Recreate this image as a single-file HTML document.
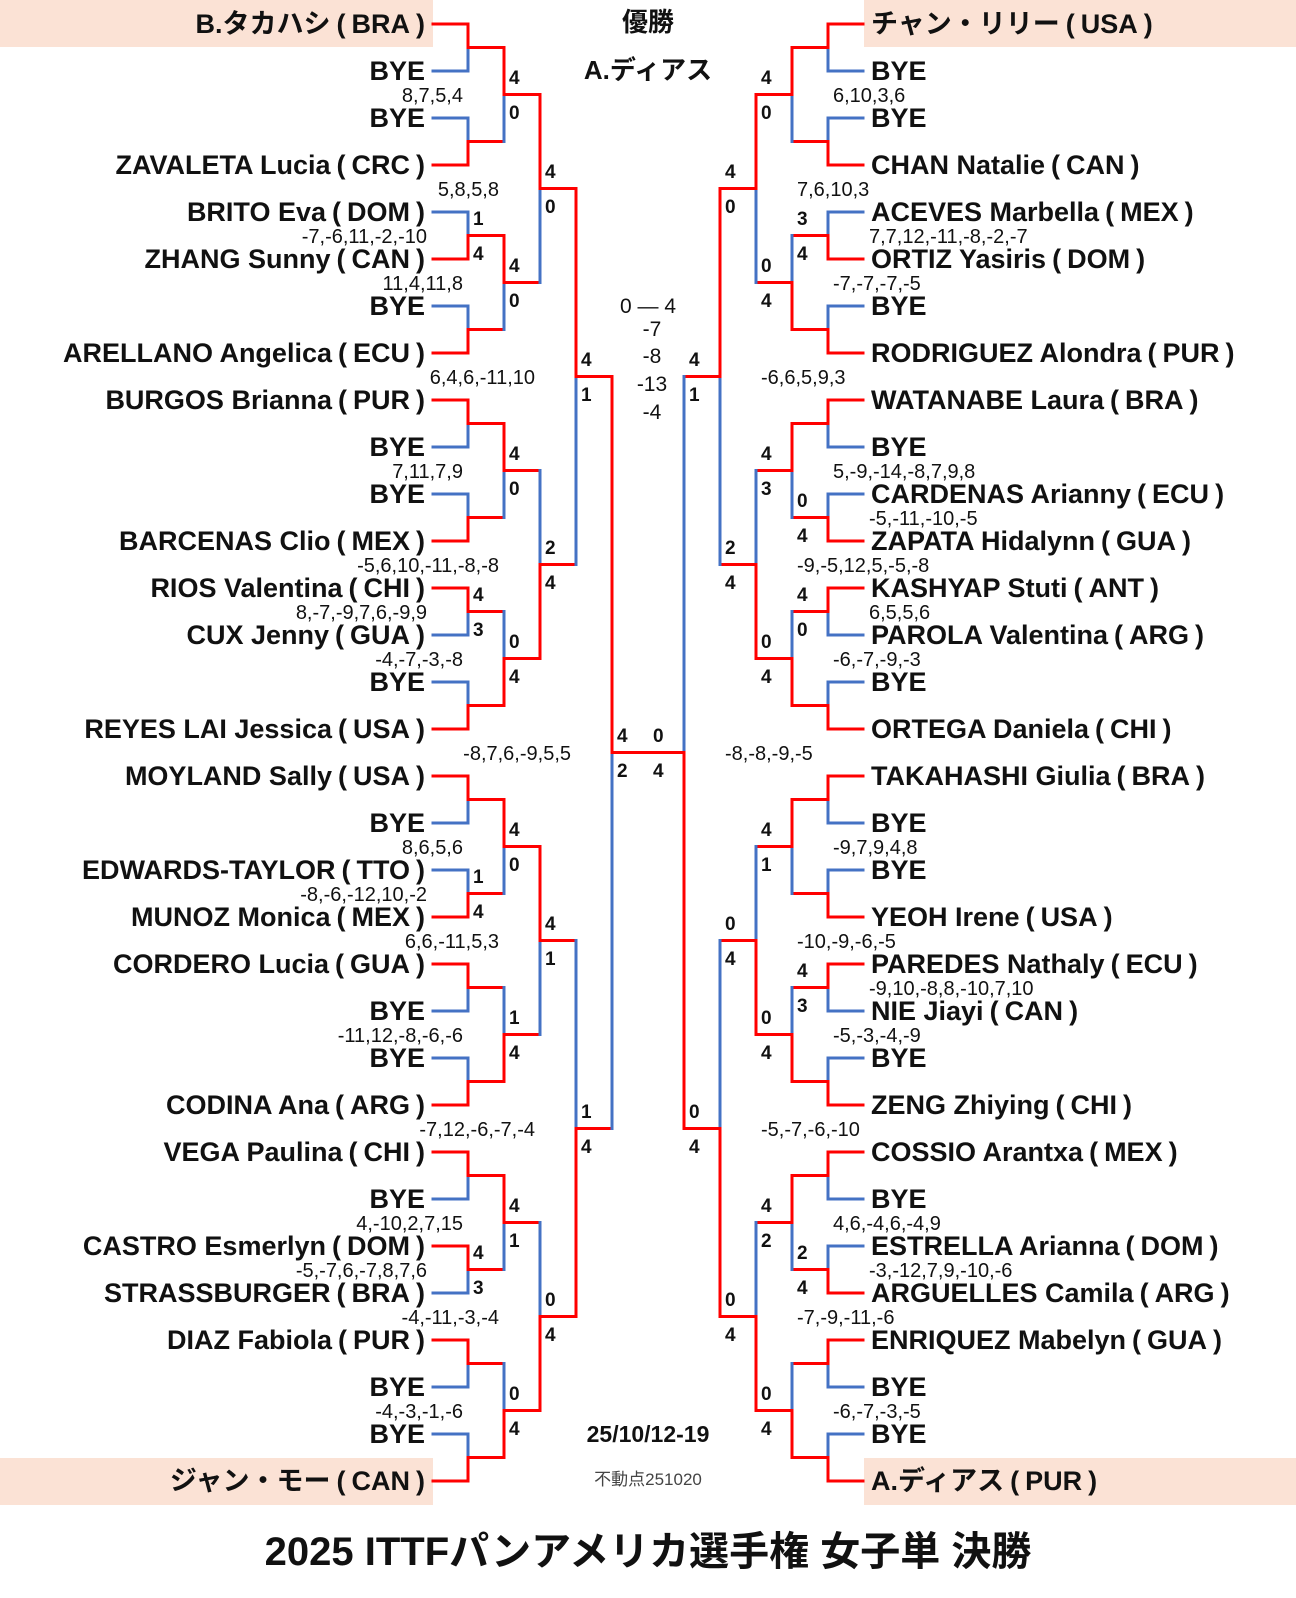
<!DOCTYPE html>
<html><head><meta charset="utf-8">
<style>
html,body{margin:0;padding:0;background:#fff}
#w{position:relative;width:1296px;height:1598px;overflow:hidden;background:#fff;font-family:"Liberation Sans","Noto Sans CJK JP",sans-serif;color:#111}
.bx{position:absolute;background:#fbe2d5}
.nl,.nr{position:absolute;font-weight:bold;font-size:27px;line-height:30px;white-space:nowrap}
.nl{right:871px;text-align:right}
.nr{left:871px}
i{font-style:normal}
i.a{margin:0 6px}
i.b{margin-left:6px}
.n{position:absolute;font-weight:bold;font-size:19px;line-height:20px}
.s{position:absolute;font-size:20px;line-height:22px;white-space:nowrap}
.c{position:absolute;left:548px;width:200px;text-align:center;white-space:nowrap}
svg{position:absolute;left:0;top:0}
</style></head><body><div id="w">
<div class="bx" style="left:0;top:0;width:433px;height:47px"></div>
<div class="bx" style="left:0;top:1458px;width:433px;height:47px"></div>
<div class="bx" style="left:864px;top:0;width:432px;height:47px"></div>
<div class="bx" style="left:864px;top:1458px;width:432px;height:47px"></div>
<svg id="sv" width="1296" height="1598"></svg>

<div class="nl" style="top:9px">B.タカハシ<i class="a">(</i>BRA<i class="b">)</i></div>
<div class="nl" style="top:56px">BYE</div>
<div class="nl" style="top:103px">BYE</div>
<div class="nl" style="top:150px">ZAVALETA Lucia<i class="a">(</i>CRC<i class="b">)</i></div>
<div class="nl" style="top:197px">BRITO Eva<i class="a">(</i>DOM<i class="b">)</i></div>
<div class="nl" style="top:244px">ZHANG Sunny<i class="a">(</i>CAN<i class="b">)</i></div>
<div class="nl" style="top:291px">BYE</div>
<div class="nl" style="top:338px">ARELLANO Angelica<i class="a">(</i>ECU<i class="b">)</i></div>
<div class="nl" style="top:385px">BURGOS Brianna<i class="a">(</i>PUR<i class="b">)</i></div>
<div class="nl" style="top:432px">BYE</div>
<div class="nl" style="top:479px">BYE</div>
<div class="nl" style="top:526px">BARCENAS Clio<i class="a">(</i>MEX<i class="b">)</i></div>
<div class="nl" style="top:573px">RIOS Valentina<i class="a">(</i>CHI<i class="b">)</i></div>
<div class="nl" style="top:620px">CUX Jenny<i class="a">(</i>GUA<i class="b">)</i></div>
<div class="nl" style="top:667px">BYE</div>
<div class="nl" style="top:714px">REYES LAI Jessica<i class="a">(</i>USA<i class="b">)</i></div>
<div class="nl" style="top:761px">MOYLAND Sally<i class="a">(</i>USA<i class="b">)</i></div>
<div class="nl" style="top:808px">BYE</div>
<div class="nl" style="top:855px">EDWARDS-TAYLOR<i class="a">(</i>TTO<i class="b">)</i></div>
<div class="nl" style="top:902px">MUNOZ Monica<i class="a">(</i>MEX<i class="b">)</i></div>
<div class="nl" style="top:949px">CORDERO Lucia<i class="a">(</i>GUA<i class="b">)</i></div>
<div class="nl" style="top:996px">BYE</div>
<div class="nl" style="top:1043px">BYE</div>
<div class="nl" style="top:1090px">CODINA Ana<i class="a">(</i>ARG<i class="b">)</i></div>
<div class="nl" style="top:1137px">VEGA Paulina<i class="a">(</i>CHI<i class="b">)</i></div>
<div class="nl" style="top:1184px">BYE</div>
<div class="nl" style="top:1231px">CASTRO Esmerlyn<i class="a">(</i>DOM<i class="b">)</i></div>
<div class="nl" style="top:1278px">STRASSBURGER<i class="a">(</i>BRA<i class="b">)</i></div>
<div class="nl" style="top:1325px">DIAZ Fabiola<i class="a">(</i>PUR<i class="b">)</i></div>
<div class="nl" style="top:1372px">BYE</div>
<div class="nl" style="top:1419px">BYE</div>
<div class="nl" style="top:1466px">ジャン・モー<i class="a">(</i>CAN<i class="b">)</i></div>

<div class="nr" style="top:9px">チャン・リリー<i class="a">(</i>USA<i class="b">)</i></div>
<div class="nr" style="top:56px">BYE</div>
<div class="nr" style="top:103px">BYE</div>
<div class="nr" style="top:150px">CHAN Natalie<i class="a">(</i>CAN<i class="b">)</i></div>
<div class="nr" style="top:197px">ACEVES Marbella<i class="a">(</i>MEX<i class="b">)</i></div>
<div class="nr" style="top:244px">ORTIZ Yasiris<i class="a">(</i>DOM<i class="b">)</i></div>
<div class="nr" style="top:291px">BYE</div>
<div class="nr" style="top:338px">RODRIGUEZ Alondra<i class="a">(</i>PUR<i class="b">)</i></div>
<div class="nr" style="top:385px">WATANABE Laura<i class="a">(</i>BRA<i class="b">)</i></div>
<div class="nr" style="top:432px">BYE</div>
<div class="nr" style="top:479px">CARDENAS Arianny<i class="a">(</i>ECU<i class="b">)</i></div>
<div class="nr" style="top:526px">ZAPATA Hidalynn<i class="a">(</i>GUA<i class="b">)</i></div>
<div class="nr" style="top:573px">KASHYAP Stuti<i class="a">(</i>ANT<i class="b">)</i></div>
<div class="nr" style="top:620px">PAROLA Valentina<i class="a">(</i>ARG<i class="b">)</i></div>
<div class="nr" style="top:667px">BYE</div>
<div class="nr" style="top:714px">ORTEGA Daniela<i class="a">(</i>CHI<i class="b">)</i></div>
<div class="nr" style="top:761px">TAKAHASHI Giulia<i class="a">(</i>BRA<i class="b">)</i></div>
<div class="nr" style="top:808px">BYE</div>
<div class="nr" style="top:855px">BYE</div>
<div class="nr" style="top:902px">YEOH Irene<i class="a">(</i>USA<i class="b">)</i></div>
<div class="nr" style="top:949px">PAREDES Nathaly<i class="a">(</i>ECU<i class="b">)</i></div>
<div class="nr" style="top:996px">NIE Jiayi<i class="a">(</i>CAN<i class="b">)</i></div>
<div class="nr" style="top:1043px">BYE</div>
<div class="nr" style="top:1090px">ZENG Zhiying<i class="a">(</i>CHI<i class="b">)</i></div>
<div class="nr" style="top:1137px">COSSIO Arantxa<i class="a">(</i>MEX<i class="b">)</i></div>
<div class="nr" style="top:1184px">BYE</div>
<div class="nr" style="top:1231px">ESTRELLA Arianna<i class="a">(</i>DOM<i class="b">)</i></div>
<div class="nr" style="top:1278px">ARGUELLES Camila<i class="a">(</i>ARG<i class="b">)</i></div>
<div class="nr" style="top:1325px">ENRIQUEZ Mabelyn<i class="a">(</i>GUA<i class="b">)</i></div>
<div class="nr" style="top:1372px">BYE</div>
<div class="nr" style="top:1419px">BYE</div>
<div class="nr" style="top:1466px">A.ディアス<i class="a">(</i>PUR<i class="b">)</i></div>

<!-- left labels -->
<div class="n" style="left:473px;top:210px">1</div><div class="n" style="left:473px;top:245px">4</div>
<div class="n" style="left:473px;top:586px">4</div><div class="n" style="left:473px;top:621px">3</div>
<div class="n" style="left:473px;top:868px">1</div><div class="n" style="left:473px;top:903px">4</div>
<div class="n" style="left:473px;top:1244px">4</div><div class="n" style="left:473px;top:1279px">3</div>
<div class="n" style="left:509px;top:69px">4</div><div class="n" style="left:509px;top:104px">0</div>
<div class="n" style="left:509px;top:257px">4</div><div class="n" style="left:509px;top:292px">0</div>
<div class="n" style="left:509px;top:445px">4</div><div class="n" style="left:509px;top:480px">0</div>
<div class="n" style="left:509px;top:633px">0</div><div class="n" style="left:509px;top:668px">4</div>
<div class="n" style="left:509px;top:821px">4</div><div class="n" style="left:509px;top:856px">0</div>
<div class="n" style="left:509px;top:1009px">1</div><div class="n" style="left:509px;top:1044px">4</div>
<div class="n" style="left:509px;top:1197px">4</div><div class="n" style="left:509px;top:1232px">1</div>
<div class="n" style="left:509px;top:1385px">0</div><div class="n" style="left:509px;top:1420px">4</div>
<div class="n" style="left:545px;top:163px">4</div><div class="n" style="left:545px;top:198px">0</div>
<div class="n" style="left:545px;top:539px">2</div><div class="n" style="left:545px;top:574px">4</div>
<div class="n" style="left:545px;top:915px">4</div><div class="n" style="left:545px;top:950px">1</div>
<div class="n" style="left:545px;top:1291px">0</div><div class="n" style="left:545px;top:1326px">4</div>
<div class="n" style="left:581px;top:351px">4</div><div class="n" style="left:581px;top:386px">1</div>
<div class="n" style="left:581px;top:1103px">1</div><div class="n" style="left:581px;top:1138px">4</div>
<div class="n" style="left:617px;top:727px">4</div><div class="n" style="left:617px;top:762px">2</div>
<!-- right labels -->
<div class="n" style="left:797px;top:210px">3</div><div class="n" style="left:797px;top:245px">4</div>
<div class="n" style="left:797px;top:492px">0</div><div class="n" style="left:797px;top:527px">4</div>
<div class="n" style="left:797px;top:586px">4</div><div class="n" style="left:797px;top:621px">0</div>
<div class="n" style="left:797px;top:962px">4</div><div class="n" style="left:797px;top:997px">3</div>
<div class="n" style="left:797px;top:1244px">2</div><div class="n" style="left:797px;top:1279px">4</div>
<div class="n" style="left:761px;top:69px">4</div><div class="n" style="left:761px;top:104px">0</div>
<div class="n" style="left:761px;top:257px">0</div><div class="n" style="left:761px;top:292px">4</div>
<div class="n" style="left:761px;top:445px">4</div><div class="n" style="left:761px;top:480px">3</div>
<div class="n" style="left:761px;top:633px">0</div><div class="n" style="left:761px;top:668px">4</div>
<div class="n" style="left:761px;top:821px">4</div><div class="n" style="left:761px;top:856px">1</div>
<div class="n" style="left:761px;top:1009px">0</div><div class="n" style="left:761px;top:1044px">4</div>
<div class="n" style="left:761px;top:1197px">4</div><div class="n" style="left:761px;top:1232px">2</div>
<div class="n" style="left:761px;top:1385px">0</div><div class="n" style="left:761px;top:1420px">4</div>
<div class="n" style="left:725px;top:163px">4</div><div class="n" style="left:725px;top:198px">0</div>
<div class="n" style="left:725px;top:539px">2</div><div class="n" style="left:725px;top:574px">4</div>
<div class="n" style="left:725px;top:915px">0</div><div class="n" style="left:725px;top:950px">4</div>
<div class="n" style="left:725px;top:1291px">0</div><div class="n" style="left:725px;top:1326px">4</div>
<div class="n" style="left:689px;top:351px">4</div><div class="n" style="left:689px;top:386px">1</div>
<div class="n" style="left:689px;top:1103px">0</div><div class="n" style="left:689px;top:1138px">4</div>
<div class="n" style="left:653px;top:727px">0</div><div class="n" style="left:653px;top:762px">4</div>

<!-- left score strings -->
<div class="s" style="right:833px;top:85px">8,7,5,4</div>
<div class="s" style="right:797px;top:179px">5,8,5,8</div>
<div class="s" style="right:869px;top:226px">-7,-6,11,-2,-10</div>
<div class="s" style="right:833px;top:273px">11,4,11,8</div>
<div class="s" style="right:761px;top:367px">6,4,6,-11,10</div>
<div class="s" style="right:833px;top:461px">7,11,7,9</div>
<div class="s" style="right:797px;top:555px">-5,6,10,-11,-8,-8</div>
<div class="s" style="right:869px;top:602px">8,-7,-9,7,6,-9,9</div>
<div class="s" style="right:833px;top:649px">-4,-7,-3,-8</div>
<div class="s" style="right:725px;top:743px">-8,7,6,-9,5,5</div>
<div class="s" style="right:833px;top:837px">8,6,5,6</div>
<div class="s" style="right:869px;top:884px">-8,-6,-12,10,-2</div>
<div class="s" style="right:797px;top:931px">6,6,-11,5,3</div>
<div class="s" style="right:833px;top:1025px">-11,12,-8,-6,-6</div>
<div class="s" style="right:761px;top:1119px">-7,12,-6,-7,-4</div>
<div class="s" style="right:833px;top:1213px">4,-10,2,7,15</div>
<div class="s" style="right:869px;top:1260px">-5,-7,6,-7,8,7,6</div>
<div class="s" style="right:797px;top:1307px">-4,-11,-3,-4</div>
<div class="s" style="right:833px;top:1401px">-4,-3,-1,-6</div>
<!-- right score strings -->
<div class="s" style="left:833px;top:85px">6,10,3,6</div>
<div class="s" style="left:797px;top:179px">7,6,10,3</div>
<div class="s" style="left:869px;top:226px">7,7,12,-11,-8,-2,-7</div>
<div class="s" style="left:833px;top:273px">-7,-7,-7,-5</div>
<div class="s" style="left:761px;top:367px">-6,6,5,9,3</div>
<div class="s" style="left:833px;top:461px">5,-9,-14,-8,7,9,8</div>
<div class="s" style="left:869px;top:508px">-5,-11,-10,-5</div>
<div class="s" style="left:797px;top:555px">-9,-5,12,5,-5,-8</div>
<div class="s" style="left:869px;top:602px">6,5,5,6</div>
<div class="s" style="left:833px;top:649px">-6,-7,-9,-3</div>
<div class="s" style="left:725px;top:743px">-8,-8,-9,-5</div>
<div class="s" style="left:833px;top:837px">-9,7,9,4,8</div>
<div class="s" style="left:797px;top:931px">-10,-9,-6,-5</div>
<div class="s" style="left:869px;top:978px">-9,10,-8,8,-10,7,10</div>
<div class="s" style="left:833px;top:1025px">-5,-3,-4,-9</div>
<div class="s" style="left:761px;top:1119px">-5,-7,-6,-10</div>
<div class="s" style="left:833px;top:1213px">4,6,-4,6,-4,9</div>
<div class="s" style="left:869px;top:1260px">-3,-12,7,9,-10,-6</div>
<div class="s" style="left:797px;top:1307px">-7,-9,-11,-6</div>
<div class="s" style="left:833px;top:1401px">-6,-7,-3,-5</div>

<!-- center -->
<div class="c" style="top:7px;font-weight:bold;font-size:26px;line-height:30px">優勝</div>
<div class="c" style="top:55px;font-weight:bold;font-size:26px;line-height:30px">A.ディアス</div>
<div class="c" style="top:295px;font-size:21px;line-height:24px">0 — 4</div>
<div class="c" style="left:552px;top:318px;font-size:21px;line-height:24px">-7</div>
<div class="c" style="left:552px;top:345px;font-size:21px;line-height:24px">-8</div>
<div class="c" style="left:552px;top:373px;font-size:21px;line-height:24px">-13</div>
<div class="c" style="left:552px;top:401px;font-size:21px;line-height:24px">-4</div>
<div class="c" style="top:1419px;font-weight:bold;font-size:23px;line-height:30px">25/10/12-19</div>
<div class="c" style="top:1469px;font-size:17px;line-height:22px;color:#444">不動点251020</div>
<div style="position:absolute;left:0;width:1296px;top:1527px;text-align:center;font-weight:bold;font-size:40px;line-height:50px;white-space:nowrap">2025 ITTFパンアメリカ選手権 女子単 決勝</div>
</div>
<script>
(function(){
var R='#ff0000',B='#4472c4',s='';
function L(x1,y1,x2,y2,c){s+='<line x1="'+x1+'" y1="'+y1+'" x2="'+x2+'" y2="'+y2+'" stroke="'+c+'"/>';}
function side(res,vs,x0){
  var ys=[];for(var i=0;i<32;i++)ys.push(24+47*i);
  for(var r=0;r<5;r++){
    var v=vs[r],prev=r==0?x0:vs[r-1],w=res[r],ny=[];
    for(var k=0;k<ys.length/2;k++){
      var yt=ys[2*k],yb=ys[2*k+1],m=(yt+yb)/2,t=w.charAt(k)=='t';
      L(prev,yt,v,yt,r==0?(t?R:B):R);
      L(prev,yb,v,yb,r==0?(t?B:R):R);
      L(v,yt,v,m,t?R:B);
      L(v,m,v,yb,t?B:R);
      ny.push(m);
    }
    ys=ny;
  }
}
side(["tbbbtbtbtbtbtttb","tttbtbtb","tbtb","tb","t"],[468,504,540,576,612],433);
side(["tbbbtbtbtbtbtbtb","tbtbtbtb","tbbb","tb","b"],[828,792,756,720,684],863);
L(612,752.5,684,752.5,R);
document.getElementById('sv').innerHTML='<g stroke-width="3" stroke-linecap="square" fill="none">'+s+'</g>';
})();
</script>
</body></html>
